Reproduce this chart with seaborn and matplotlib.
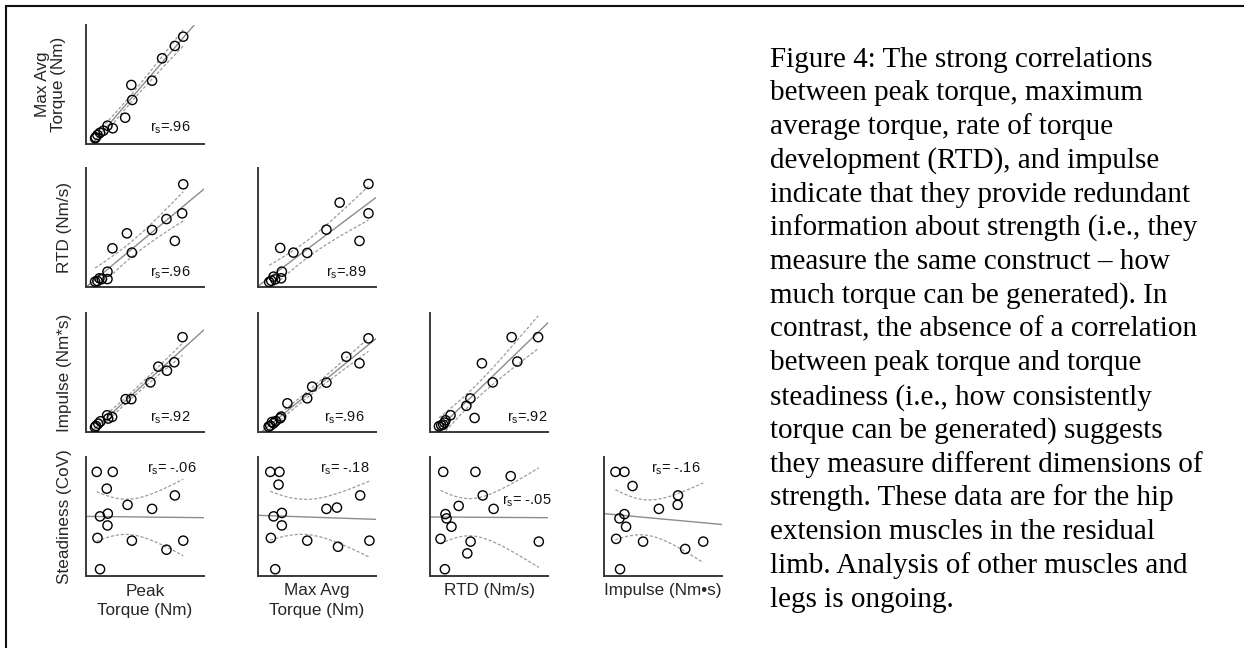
import numpy as np
import matplotlib
matplotlib.use("Agg")
import matplotlib.pyplot as plt
import seaborn as sns
from matplotlib.lines import Line2D

# ---------------- data (values as % of each axis range) ----------------
maxavg_vs_peak_x = [82.4, 75.3, 64.5, 56.0, 38.4, 39.2, 33.2, 22.7, 18.2, 11.9, 9.7, 8.2, 7.7, 14.8]
maxavg_vs_peak_y = [90.2, 82.4, 72.0, 53.2, 49.6, 37.0, 22.1, 13.2, 15.4, 9.5, 7.6, 5.6, 4.8, 11.2]

rtd_vs_peak_x = [82.4, 81.5, 68.2, 56.0, 75.3, 34.7, 22.4, 38.9, 18.2, 18.2, 13.4, 9.7, 7.7, 11.4]
rtd_vs_peak_y = [86.3, 61.9, 57.1, 47.9, 38.7, 45.1, 32.5, 28.9, 12.9, 6.7, 6.7, 5.0, 4.5, 7.3]

rtd_vs_maxavg_x = [93.6, 69.2, 93.6, 58.0, 86.0, 18.8, 30.0, 41.7, 20.2, 19.6, 13.2, 11.2, 9.5, 14.6]
rtd_vs_maxavg_y = [86.6, 70.9, 61.9, 48.2, 38.7, 32.8, 28.9, 28.6, 12.9, 7.3, 8.7, 5.3, 4.2, 6.4]

imp_vs_peak_x = [81.8, 74.8, 68.6, 61.3, 54.6, 33.6, 38.4, 22.1, 17.9, 18.8, 12.3, 10.4, 8.4, 7.6]
imp_vs_peak_y = [79.7, 58.6, 51.5, 54.9, 41.7, 27.6, 27.6, 12.7, 14.1, 11.3, 9.0, 7.0, 5.1, 3.9]

imp_vs_maxavg_x = [93.6, 74.8, 86.0, 58.0, 45.9, 41.7, 24.9, 19.6, 18.8, 15.1, 13.2, 10.4, 9.0, 11.8]
imp_vs_maxavg_y = [78.7, 63.3, 57.7, 41.5, 38.1, 28.3, 24.1, 12.9, 11.5, 9.2, 7.3, 5.3, 4.5, 8.4]

imp_vs_rtd_x = [91.6, 69.2, 44.0, 74.0, 53.2, 34.2, 30.8, 37.8, 17.4, 13.2, 12.3, 9.5, 7.6, 11.2]
imp_vs_rtd_y = [79.7, 79.7, 57.7, 59.2, 41.7, 28.2, 22.0, 11.8, 14.1, 9.9, 7.9, 5.6, 4.8, 6.2]

stead_vs_peak_x = [9.1, 22.7, 17.6, 35.2, 56.0, 75.3, 11.9, 18.5, 18.2, 9.7, 38.9, 68.2, 82.4, 11.9]
stead_vs_peak_y = [87.5, 87.5, 73.4, 59.8, 56.4, 67.7, 50.1, 52.4, 42.5, 32.0, 29.7, 22.1, 29.7, 5.7]

stead_vs_maxavg_x = [10.4, 18.2, 17.4, 86.6, 58.0, 66.9, 13.2, 20.2, 20.2, 10.9, 41.7, 67.8, 94.4, 14.6]
stead_vs_maxavg_y = [87.5, 87.5, 76.8, 67.7, 56.4, 57.5, 50.1, 53.0, 42.5, 32.0, 29.7, 24.6, 29.7, 5.7]

stead_vs_rtd_x = [11.2, 38.5, 68.4, 44.7, 24.3, 53.9, 13.1, 14.0, 18.2, 8.9, 34.4, 92.2, 31.6, 12.6]
stead_vs_rtd_y = [87.5, 87.5, 83.9, 67.7, 58.9, 56.4, 52.0, 48.4, 41.4, 31.2, 28.9, 28.9, 19.0, 5.7]

stead_vs_imp_x = [9.7, 17.3, 24.2, 62.7, 62.4, 46.5, 17.3, 13.1, 18.7, 10.3, 33.1, 84.1, 68.8, 13.6]
stead_vs_imp_y = [87.5, 87.5, 75.6, 67.7, 59.8, 56.4, 52.0, 48.4, 41.4, 31.2, 28.9, 28.9, 22.7, 5.7]

# fitted lines of the steadiness row as drawn in the figure (% of y range at x=0 and x=100)
stead_fit_at_x0 = [50.1, 51.0, 49.6, 52.4]
stead_fit_at_x100 = [49.0, 47.6, 49.0, 43.3]

rs_labels = {
    (0, 0): "=.96", (1, 0): "=.96", (1, 1): "=.89",
    (2, 0): "=.92", (2, 1): "=.96", (2, 2): "=.92",
    (3, 0): "= -.06", (3, 1): "= -.18", (3, 2): "= -.05", (3, 3): "= -.16",
}

row_labels = [["Max Avg", "Torque (Nm)"], ["RTD (Nm/s)"], ["Impulse (Nm*s)"], ["Steadiness (CoV)"]]
col_labels = [["Peak", "Torque (Nm)"], ["Max Avg", "Torque (Nm)"], ["RTD (Nm/s)"], ["Impulse (Nm\u2022s)"]]

caption_lines = [
    "Figure 4: The strong correlations",
    "between peak torque, maximum",
    "average torque, rate of torque",
    "development (RTD), and impulse",
    "indicate that they provide redundant",
    "information about strength (i.e., they",
    "measure the same construct \u2013 how",
    "much torque can be generated). In",
    "contrast, the absence of a correlation",
    "between peak torque and torque",
    "steadiness (i.e., how consistently",
    "torque can be generated) suggests",
    "they measure different dimensions of",
    "strength. These data are for the hip",
    "extension muscles in the residual",
    "limb. Analysis of other muscles and",
    "legs is ongoing.",
]

panels = {
    (0, 0): (maxavg_vs_peak_x, maxavg_vs_peak_y),
    (1, 0): (rtd_vs_peak_x, rtd_vs_peak_y),
    (1, 1): (rtd_vs_maxavg_x, rtd_vs_maxavg_y),
    (2, 0): (imp_vs_peak_x, imp_vs_peak_y),
    (2, 1): (imp_vs_maxavg_x, imp_vs_maxavg_y),
    (2, 2): (imp_vs_rtd_x, imp_vs_rtd_y),
    (3, 0): (stead_vs_peak_x, stead_vs_peak_y),
    (3, 1): (stead_vs_maxavg_x, stead_vs_maxavg_y),
    (3, 2): (stead_vs_rtd_x, stead_vs_rtd_y),
    (3, 3): (stead_vs_imp_x, stead_vs_imp_y),
}

# ---------------- style ----------------
sns.set_theme(style="white")
plt.rcParams["font.family"] = ["Liberation Sans", "DejaVu Sans"]
plt.rcParams["mathtext.fontset"] = "custom"
plt.rcParams["mathtext.rm"] = "Liberation Sans"
plt.rcParams["mathtext.it"] = "Liberation Sans"
plt.rcParams["mathtext.bf"] = "Liberation Sans:bold"

W, H = 1244, 648
fig = plt.figure(figsize=(W / 100, H / 100), dpi=100)
fig.patch.set_facecolor("white")


def fx(px):
    return px / W


def fy(py):
    return 1 - py / H


col_left = [86, 258, 430, 604]
row_top = [25, 168, 313, 457]
AX_W, AX_H = 118, 119

rs_pos = {
    (0, 0): (0.54, 0.103), (1, 0): (0.54, 0.087), (1, 1): (0.573, 0.087),
    (2, 0): (0.54, 0.087), (2, 1): (0.556, 0.087), (2, 2): (0.65, 0.087),
    (3, 0): (0.518, 0.868), (3, 1): (0.524, 0.868), (3, 2): (0.613, 0.597),
    (3, 3): (0.40, 0.868),
}

T975 = {12: 2.179}
LINE_KW = dict(color="#8c8c8c", lw=1.0, zorder=2)
DASH_KW = dict(color="#9c9c9c", lw=0.9, ls=(0, (2.5, 1.5)), zorder=2)


def ci_lines(x, y, a, b, grid):
    n = len(x)
    resid = y - (a + b * x)
    s = np.sqrt(np.sum(resid ** 2) / (n - 2))
    sxx = np.sum((x - x.mean()) ** 2)
    t = T975.get(n - 2, 2.179)
    fit = a + b * grid
    half = t * s * np.sqrt(1.0 / n + (grid - x.mean()) ** 2 / sxx)
    return fit - half, fit + half


for (r, c), (xs, ys) in panels.items():
    ax = fig.add_axes([fx(col_left[c]), fy(row_top[r] + AX_H), AX_W / W, AX_H / H])
    ax.set_xlim(0, 100)
    ax.set_ylim(0, 100)
    x = np.asarray(xs, dtype=float)
    y = np.asarray(ys, dtype=float)
    if r < 3:
        sns.regplot(x=x, y=y, ax=ax, scatter=False, ci=None, truncate=False,
                    line_kws=LINE_KW)
        b, a = np.polyfit(x, y, 1)
    else:
        a = stead_fit_at_x0[c]
        b = (stead_fit_at_x100[c] - stead_fit_at_x0[c]) / 100.0
        sns.lineplot(x=[0, 100], y=[stead_fit_at_x0[c], stead_fit_at_x100[c]], ax=ax,
                     **LINE_KW)
    grid = np.linspace(x.min(), x.max(), 100)
    lo, hi = ci_lines(x, y, a, b, grid)
    for band in (lo, hi):
        ax.plot(grid, band, **DASH_KW)
    sns.scatterplot(x=x, y=y, ax=ax, marker="o", s=44, facecolors="none",
                    edgecolor="black", linewidth=1.0, zorder=3, legend=False)
    ax.set_xlim(0, 100)
    ax.set_ylim(0, 100)
    ax.set_xticks([])
    ax.set_yticks([])
    ax.set_xlabel("")
    ax.set_ylabel("")
    for sp in ("top", "right"):
        ax.spines[sp].set_visible(False)
    for sp in ("left", "bottom"):
        ax.spines[sp].set_color("#3a3a3a")
        ax.spines[sp].set_linewidth(1.4)
    ax.patch.set_alpha(0)
    px, py = rs_pos[(r, c)]
    ax.text(px, py, r"$r_s$" + rs_labels[(r, c)], transform=ax.transAxes,
            fontsize=10.5, ha="left", va="baseline", color="#111111")

# row labels (rotated)
fig.text(fx(42), fy(84.5), row_labels[0][0], rotation=90, ha="center", va="center", fontsize=12.3)
fig.text(fx(59), fy(84.5), row_labels[0][1], rotation=90, ha="center", va="center", fontsize=12.3)
for r in (1, 2, 3):
    fig.text(fx(65), fy(row_top[r] + AX_H / 2), row_labels[r][0], rotation=90,
             ha="center", va="center", fontsize=12.3)

# column labels
for c, lines in enumerate(col_labels):
    cx = col_left[c] + AX_W / 2
    for i, line in enumerate(lines):
        fig.text(fx(cx), fy(591 + 19.5 * i), line, ha="center", va="center", fontsize=12.3)

# caption
for i, line in enumerate(caption_lines):
    fig.text(fx(770), fy(66.7 + 33.75 * i), line, ha="left", va="baseline",
             fontsize=21, family=["Liberation Serif", "DejaVu Serif"], color="black")

# frame (top and left edges)
fig.add_artist(Line2D([fx(6), fx(W)], [fy(6), fy(6)], color="#111111", lw=1.5))
fig.add_artist(Line2D([fx(6), fx(6)], [fy(6), fy(H)], color="#111111", lw=1.5))

fig.savefig("out.png", dpi=100, facecolor="white")
